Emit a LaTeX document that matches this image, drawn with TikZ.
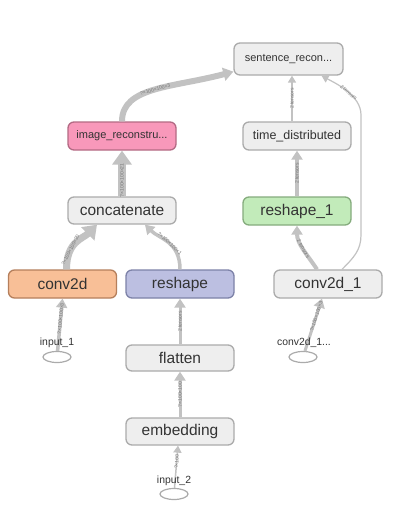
\documentclass[tikz,border=0pt]{standalone}
\usepackage{fontspec}
\setmainfont{Liberation Sans}
\usetikzlibrary{arrows.meta,shapes.geometric,calc}
\definecolor{edgec}{HTML}{C2C2C2}
\definecolor{boxfill}{HTML}{EEEEEE}
\definecolor{boxline}{HTML}{ABABAB}
\definecolor{txt}{HTML}{333333}
\definecolor{pinkf}{HTML}{F898BA}
\definecolor{pinkd}{HTML}{B36A84}
\definecolor{orangef}{HTML}{F8BF97}
\definecolor{oranged}{HTML}{B57F5C}
\definecolor{lavf}{HTML}{BCBFE1}
\definecolor{lavd}{HTML}{7D82A8}
\definecolor{greenf}{HTML}{C2EBBA}
\definecolor{greend}{HTML}{85AC7D}
\definecolor{elab}{HTML}{777777}
\begin{document}
\begin{tikzpicture}[x=1pt,y=-1pt,
  box/.style={draw=boxline, fill=boxfill, rounded corners=6pt, line width=1.3pt,
    minimum width=108pt, minimum height=28pt, inner sep=0pt, text=txt,
    font=\fontsize{15.5}{16}\selectfont},
  smallbox/.style={box, font=\fontsize{11}{12}\selectfont},
  inp/.style={draw=boxline, fill=white, ellipse, line width=1.2pt, minimum width=28pt, minimum height=11pt, inner sep=0pt},
  inlabel/.style={text=txt, font=\fontsize{10.4}{11}\selectfont, inner sep=0pt},
  edge/.style={draw=edgec},
  elabel/.style={text=elab, font=\fontsize{5}{5}\selectfont, inner sep=0pt},
  tipS/.style={-{Triangle[length=7pt,width=8pt]}},
  tipM/.style={-{Triangle[length=9pt,width=11pt]}},
  tipL/.style={-{Triangle[length=14pt,width=19pt]}}
]
\useasboundingbox (0,0) rectangle (404,525);
\fill[white] (0,0) rectangle (404,525);

% nodes
\node[smallbox, minimum height=32pt, minimum width=109pt] (sent) at (288.5,59) {sentence\_recon...};
\node[smallbox, fill=pinkf, draw=pinkd] (img) at (122,136) {image\_reconstru...};
\node[box, font=\fontsize{12.5}{13}\selectfont] (td) at (297,136) {time\_distributed};
\node[box, minimum height=27pt] (concat) at (122,210.5) {concatenate};
\node[box, fill=greenf, draw=greend] (r1) at (297,211) {reshape\_1};
\node[box, fill=orangef, draw=oranged] (conv) at (62.5,284) {conv2d};
\node[box, fill=lavf, draw=lavd] (reshape) at (180,284) {reshape};
\node[box] (c21) at (328,284) {conv2d\_1};
\node[box, minimum height=26pt] (flat) at (180,358) {flatten};
\node[box, minimum height=27pt] (emb) at (180,431.5) {embedding};
\node[inp] (in1) at (57,357) {};
\node[inp] (c21in) at (303,357) {};
\node[inp] (in2) at (174,494) {};

% edges
\draw[edge, line width=6pt, -{Triangle[length=10pt,width=13pt]}] (img.north) .. controls +(0,-35) and +(-60,16) .. ($(sent.south west)+(0,-4)$)
  node[elabel, sloped, pos=0.5] {?×100×100×3};
\draw[edge, line width=8pt, tipL] (concat.north) -- (img.south)
  node[elabel, sloped, pos=0.35] {?×100×100×21};
\draw[edge, line width=7pt, -{Triangle[length=13pt,width=18pt]}] ($(conv.north)+(4,0)$) .. controls +(0,-28) and +(-14,14) .. ($(concat.south)+(-25,0)$)
  node[elabel, sloped, pos=0.3] {?×100×100×20};
\draw[edge, line width=3.5pt, tipM] (reshape.north) .. controls +(0,-28) and +(14,14) .. ($(concat.south)+(23,0)$)
  node[elabel, sloped, pos=0.45] {?×100×100×1};
\draw[edge, line width=4pt, tipM] ($(c21.north)+(-11,0)$) .. controls +(-10,-15) and +(0,18) .. (r1.south)
  node[elabel, sloped, pos=0.5] {2 tensors};
\draw[edge, line width=1.2pt, tipS] ($(c21.north)+(14,0)$) .. controls +(12,-12) and +(0,15) .. (361,235) -- (361,115) .. controls (361,95) and (335,83) .. ($(sent.south)+(33,0)$)
  node[elabel, sloped, pos=0.45] {2 tensors};
\draw[edge, line width=1.5pt, tipS] ($(td.north)+(-5,0)$) -- ($(sent.south)+(3.5,0)$)
  node[elabel, sloped, midway] {2 tensors};
\draw[edge, line width=3.5pt, tipM] (r1.north) -- (td.south)
  node[elabel, sloped, midway] {2 tensors};
\draw[edge, line width=3pt, tipM] (flat.north) -- (reshape.south)
  node[elabel, sloped, midway] {2 tensors};
\draw[edge, line width=3pt, tipM] (emb.north) -- (flat.south)
  node[elabel, sloped, midway] {?×100×100};
\draw[edge, line width=1.5pt, tipS] (in2) -- ($(emb.south)+(-2,0)$)
  node[elabel, sloped, pos=0.62] {?×100};
\draw[edge, line width=3.5pt, tipM] (in1) -- (conv.south)
  node[elabel, sloped, pos=0.62] {?×100×100×3};
\draw[edge, line width=3pt, tipM] (c21in) -- ($(c21.south)+(-6,0)$)
  node[elabel, sloped, pos=0.66] {?×100×100×3};

% input labels
\node[inlabel] (in1l) at (57,343) {input\_1};
\node[inlabel] (c21l) at (304,343) {conv2d\_1...};
\node[inlabel] (in2l) at (174,481) {input\_2};
\end{tikzpicture}
\end{document}
